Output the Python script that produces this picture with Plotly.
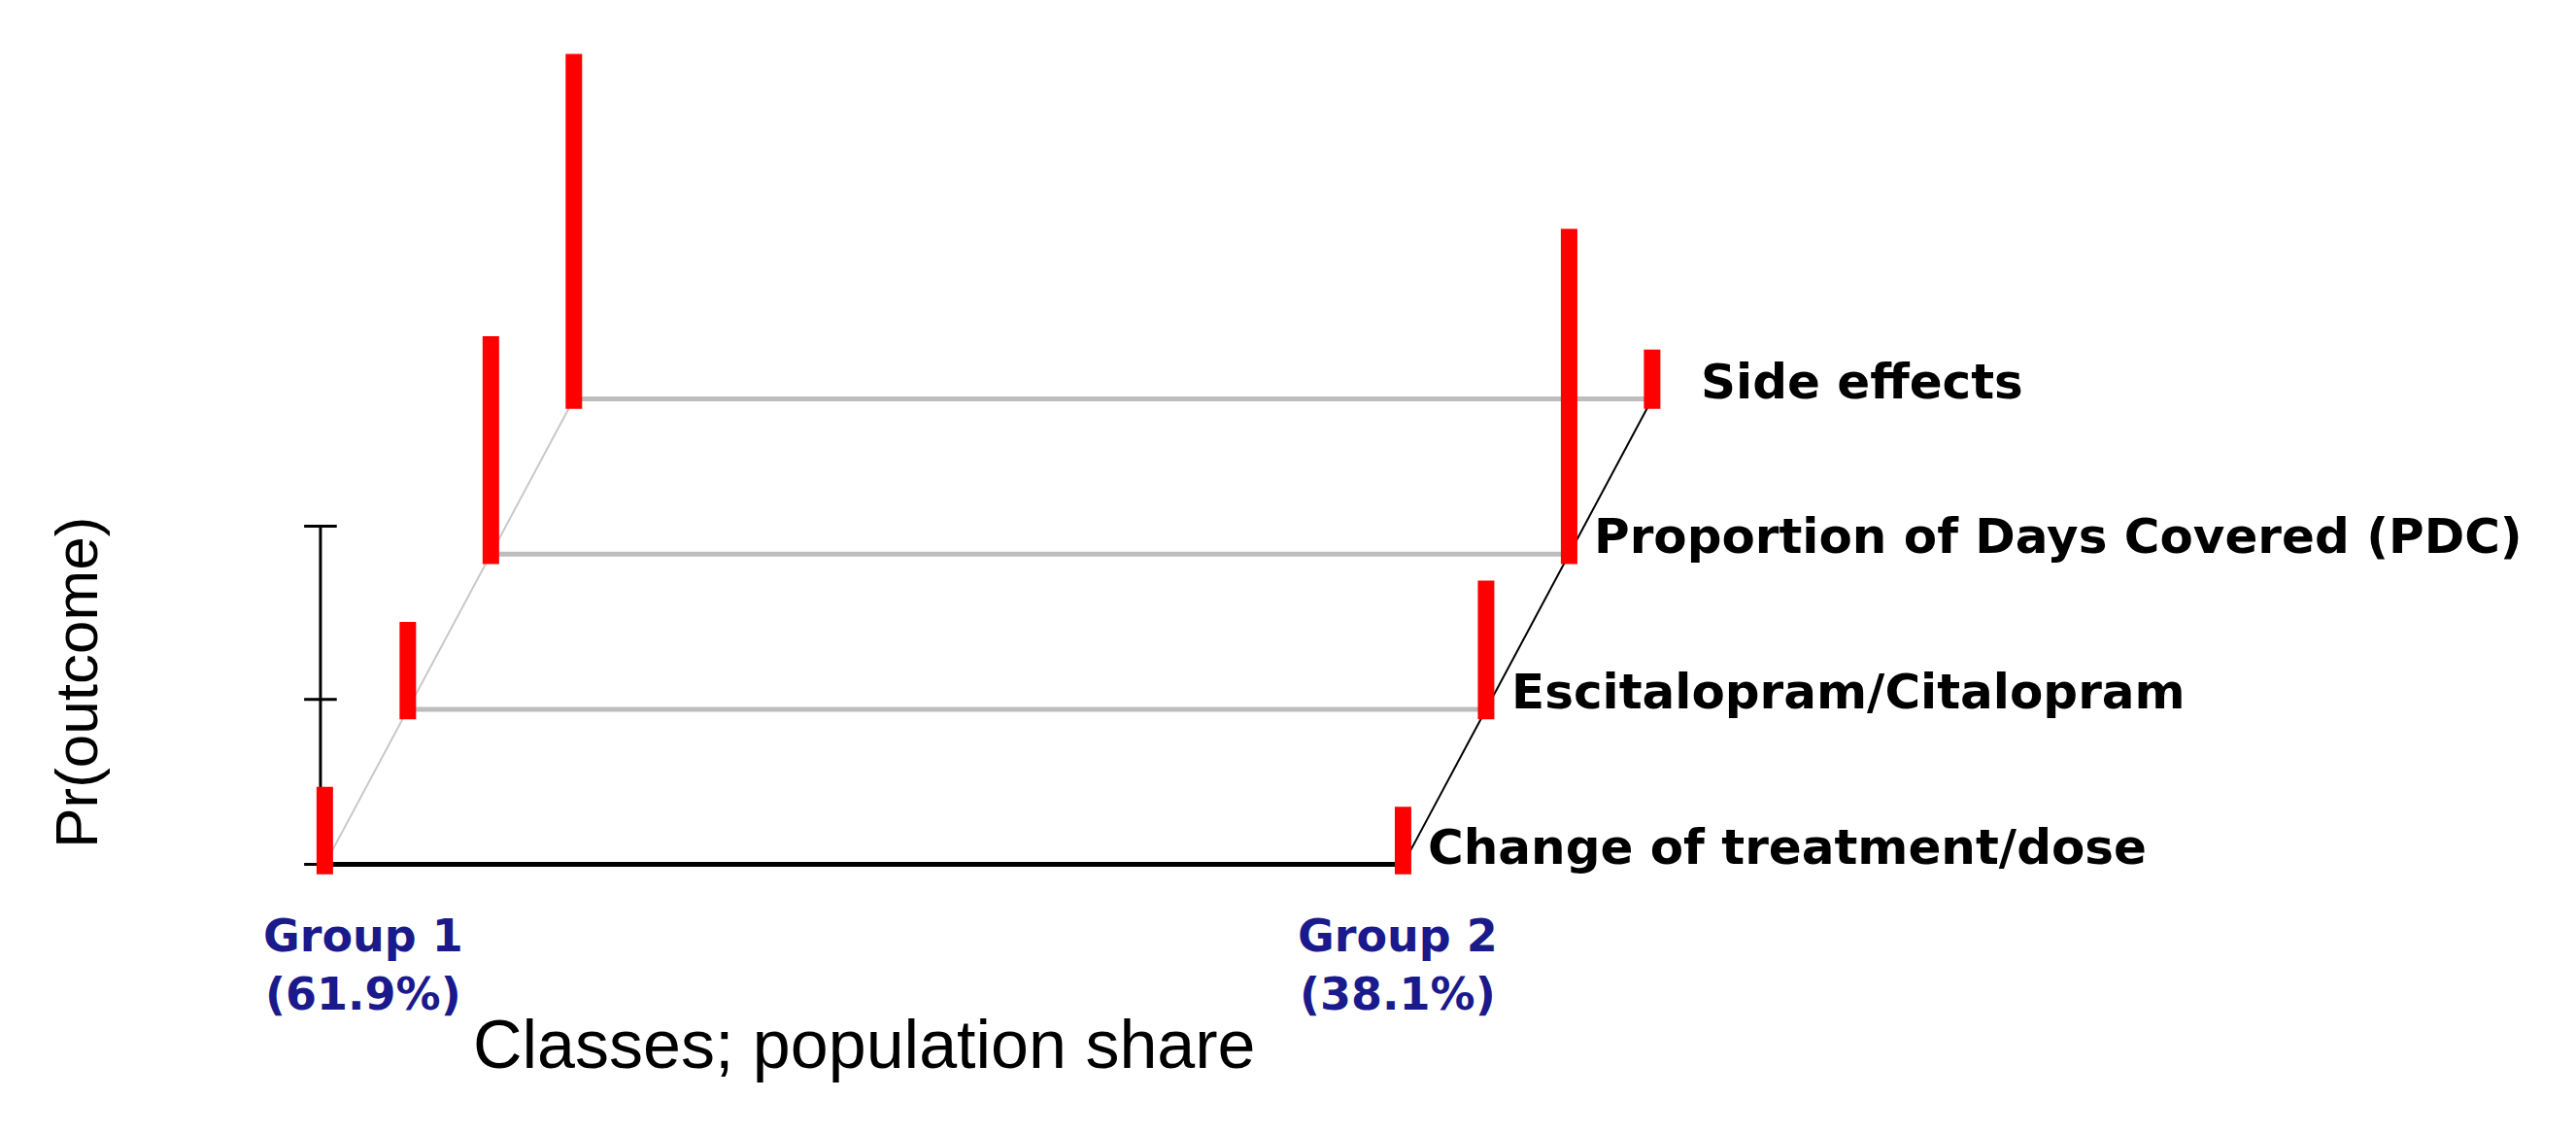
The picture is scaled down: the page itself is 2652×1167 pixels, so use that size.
import plotly.graph_objects as go

# outcomes, front (depth 0) to back (depth 3)
outcomes = ["Change of treatment/dose", "Escitalopram/Citalopram",
            "Proportion of Days Covered (PDC)", "Side effects"]
groups = ["Group 1<br>(61.9%)", "Group 2<br>(38.1%)"]
group_x = [0.0, 1.0]
# Pr(outcome) per group
group1_pr = [0.047, 0.053, 0.132, 0.209]
group2_pr = [0.035, 0.078, 0.197, 0.030]
scale_ticks = [0.0, 0.1, 0.205]

# pseudo-3D depth step
DX = 0.077
DY = 0.094
RED = "#ff0000"
NAVY = "#1a1a8c"


def base(gx, d):
    return gx + d * DX, d * DY


fig = go.Figure()

# horizontal baselines between the two groups
for d in range(len(outcomes)):
    x0, y0 = base(group_x[0], d)
    x1, y1 = base(group_x[1], d)
    fig.add_trace(go.Scatter(x=[x0, x1], y=[y0, y1], mode="lines",
                             line=dict(color="black" if d == 0 else "#bdbdbd", width=5),
                             showlegend=False, hoverinfo="skip"))

# depth diagonals
for gx, col, w in [(group_x[0], "#c8c8c8", 2), (group_x[1], "black", 2)]:
    pts = [base(gx, d) for d in range(len(outcomes))]
    fig.add_trace(go.Scatter(x=[p[0] for p in pts], y=[p[1] for p in pts], mode="lines",
                             line=dict(color=col, width=w), showlegend=False, hoverinfo="skip"))

# scale bar on the left
sx = group_x[0] - 0.004
fig.add_trace(go.Scatter(x=[sx] * len(scale_ticks), y=scale_ticks, mode="lines+markers",
                         line=dict(color="black", width=3),
                         marker=dict(symbol="line-ew", size=24, line=dict(color="black", width=3)),
                         showlegend=False, hoverinfo="skip"))

# red probability bars
for gx, vals in [(group_x[0], group1_pr), (group_x[1], group2_pr)]:
    for d, v in enumerate(vals):
        x0, y0 = base(gx, d)
        fig.add_trace(go.Scatter(x=[x0, x0], y=[y0 - 0.006, y0 + v], mode="lines",
                                 line=dict(color=RED, width=17),
                                 showlegend=False, hoverinfo="skip"))

# outcome labels
shifts = [24, 24, 24, 48]
for d, name in enumerate(outcomes):
    x1, y1 = base(group_x[1], d)
    fig.add_annotation(x=x1, y=y1, text=f"<b>{name}</b>", showarrow=False,
                       xanchor="left", yanchor="middle", xshift=shifts[d], yshift=18,
                       font=dict(family="DejaVu Sans", size=50, color="black"))

# group labels
for gx, g, dxs in zip(group_x, groups, [40, -5]):
    fig.add_annotation(x=gx, y=-0.026, text=f"<b>{g}</b>", showarrow=False,
                       xanchor="center", yanchor="top", xshift=dxs,
                       font=dict(family="DejaVu Sans", size=46, color=NAVY))

fig.add_annotation(x=0.5, y=-0.085, text="Classes; population share", showarrow=False,
                   xanchor="center", yanchor="top",
                   font=dict(family="Liberation Sans", size=70, color="black"))
fig.add_annotation(x=-0.23, y=0.11, text="Pr(outcome)", showarrow=False, textangle=-90,
                   xanchor="center", yanchor="middle",
                   font=dict(family="Liberation Sans", size=62, color="black"))

fig.update_xaxes(range=[-0.294, 2.095], visible=False)
fig.update_yaxes(range=[-0.168, 0.519], visible=False)
fig.update_layout(width=2652, height=1167, margin=dict(l=0, r=0, t=0, b=0),
                  plot_bgcolor="white", paper_bgcolor="white")

fig.write_html("out.html")
